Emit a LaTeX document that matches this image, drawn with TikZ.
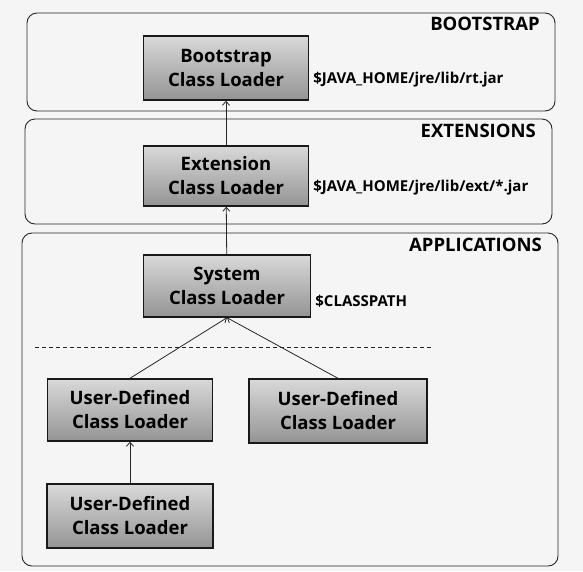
\documentclass[tikz,border=0pt]{standalone}
\usepackage{fontspec}
\setmainfont{Open Sans}
\usetikzlibrary{arrows.meta,positioning,calc}

\tikzset{
	panel/.style={draw=black!85, line width=0.9pt, rounded corners=10pt},
	loader/.style={draw=black!90, line width=1.4pt, top color=black!15, bottom color=black!42,
		align=center, font=\fontsize{18.5}{24}\selectfont\bfseries, inner sep=0pt},
	tier/.style={anchor=north east, inner sep=0pt, font=\fontsize{18.5}{20}\selectfont\bfseries},
	jarpath/.style={anchor=west, inner sep=2pt, font=\fontsize{15}{16}\selectfont\bfseries},
	delegate/.style={-{Straight Barb[length=4pt,width=7pt]}, line width=0.8pt, black!85}
}

\begin{document}
\begin{tikzpicture}[x=1pt, y=-1pt]
	%%%%% START %%%%%
	\useasboundingbox (0, 0) rectangle (583, 571);
	\fill[black!4] (0, 0) rectangle (583, 571);
	
	% tiers
	\draw[panel] (27, 13) rectangle (555, 111);
	\draw[panel] (25, 119) rectangle (552, 224);
	\draw[panel] (22, 233) rectangle (558, 566);
	\node[tier] at (540, 17) {BOOTSTRAP};
	\node[tier] at (536, 124) {EXTENSIONS};
	\node[tier] at (542, 238) {APPLICATIONS};
	
	% loaders
	\node[loader, minimum width=165, minimum height=64] (boot) at (226, 68) {Bootstrap\\Class Loader};
	\node[loader, minimum width=165, minimum height=60] (ext) at (226, 176) {Extension\\Class Loader};
	\node[loader, minimum width=167, minimum height=62] (sys) at (227, 286) {System\\Class Loader};
	\node[loader, minimum width=165, minimum height=62] (user1) at (130, 410) {User-Defined\\Class Loader};
	\node[loader, minimum width=178, minimum height=64] (user2) at (338, 411) {User-Defined\\Class Loader};
	\node[loader, minimum width=166, minimum height=64] (user3) at (130, 516) {User-Defined\\Class Loader};
	
	% paths
	\node[jarpath] (rtjar) at ($(boot.east)+(2, 12)$) {\$JAVA\_HOME/jre/lib/rt.jar};
	\node[jarpath] (extjar) at ($(ext.east)+(2, 12)$) {\$JAVA\_HOME/jre/lib/ext/*.jar};
	\node[jarpath] (cpath) at ($(sys.east)+(2, 15)$) {\$CLASSPATH};
	
	\draw[dash pattern=on 4pt off 3pt, line width=0.8pt, black!85] (35, 347) -- (432, 347);
	
	% delegation
	\draw[delegate] (ext) -- (boot);
	\draw[delegate] (sys) -- (ext);
	\draw[delegate] (user1.north) -- (sys.south);
	\draw[delegate] (user2.north) -- (sys.south);
	\draw[delegate] (user3) -- (user1);
	
	%%%%% END %%%%%
\end{tikzpicture}
\end{document}
